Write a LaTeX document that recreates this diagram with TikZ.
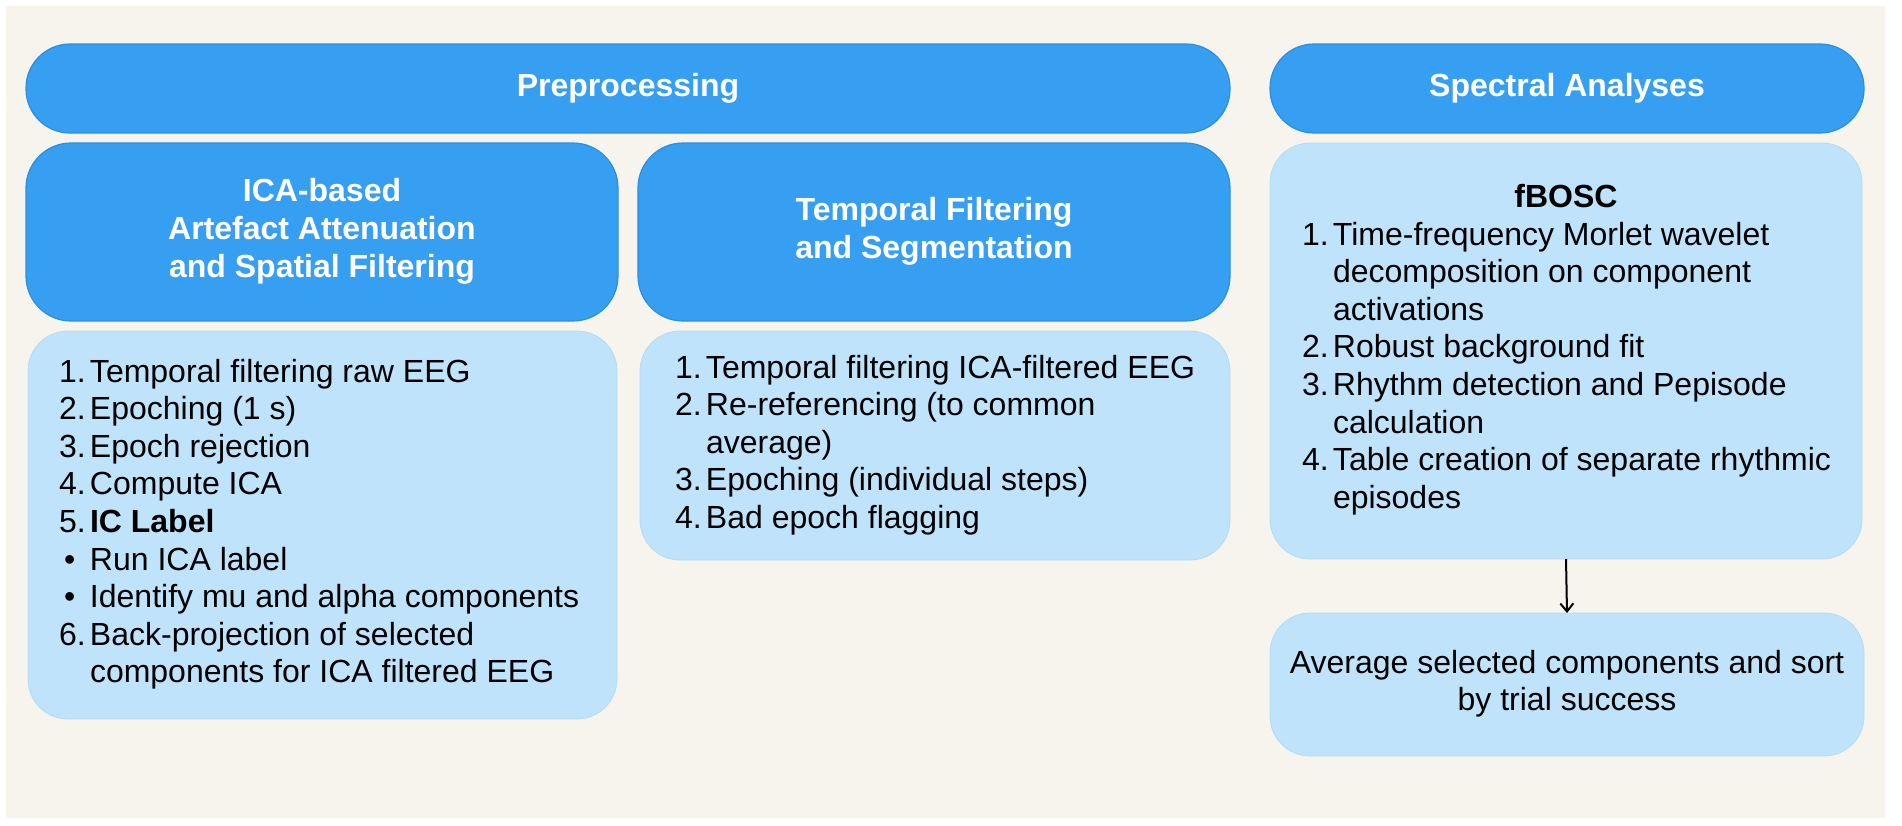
\documentclass[tikz,border=0pt]{standalone}
\usepackage{fontspec}
\setmainfont{Liberation Sans}
\usetikzlibrary{arrows.meta}
\definecolor{bgbeige}{HTML}{F6F4EC}
\definecolor{darkblue}{HTML}{369FF1}
\definecolor{darkedge}{HTML}{2B8FE0}
\definecolor{lightblue}{HTML}{BEE3FA}
\definecolor{lightedge}{HTML}{B3DCF7}
\newcommand\nb[1]{\makebox[31pt][l]{#1}}
\newcommand\ind{\hspace*{31pt}}
\newcommand\blt{\makebox[31pt][l]{\hspace*{5pt}•}}
\begin{document}
\begin{tikzpicture}[x=1pt,y=-1pt,
  txt/.style={font=\fontsize{32}{37.6}\selectfont, inner sep=0pt, outer sep=0pt, text=black},
  darkbox/.style={fill=darkblue, draw=darkedge, line width=1.2pt, rounded corners=#1,
    inner sep=0pt, outer sep=0pt, text=white, font=\bfseries\fontsize{32}{37.6}\selectfont,
    align=center, anchor=north west},
  darkbox/.default=45pt,
  lightbox/.style={fill=lightblue, draw=lightedge, line width=0.8pt, rounded corners=#1,
    inner sep=0pt, outer sep=0pt, anchor=north west},
  lightbox/.default=40pt,
  arrowline/.style={draw=black, line width=2pt, -{Straight Barb[length=8pt,width=13pt,line width=2pt]}}
]
\useasboundingbox (0,0) rectangle (1902,825);
\fill[white] (0,0) rectangle (1902,825);
\fill[bgbeige] (6,6) rectangle (1885,818);

% top headers
\node[darkbox=44pt, minimum width=1204pt, minimum height=89pt] (pre) at (26,44) {Preprocessing};
\node[darkbox=44pt, minimum width=594pt, minimum height=89pt] (spec) at (1270,44) {Spectral Analyses};

% sub headers
\node[darkbox, minimum width=592pt, minimum height=178pt] (icahead) at (26,143)
  {\strut ICA-based\\\strut Artefact Attenuation\\\strut and Spatial Filtering};
\node[darkbox, minimum width=592pt, minimum height=178pt] (tfhead) at (638,143)
  {\strut Temporal Filtering\\\strut and Segmentation};

% light boxes
\node[lightbox, minimum width=589pt, minimum height=388pt] (icabox) at (28,331) {};
\node[lightbox, minimum width=590pt, minimum height=229pt] (tfbox) at (640,331) {};
\node[lightbox, minimum width=592pt, minimum height=416pt] (fbosc) at (1270,143) {};
\node[lightbox, minimum width=594pt, minimum height=143pt] (avg) at (1270,613)
  {};

% list texts
\node[txt, anchor=north west, align=left] (icalist) at (59,355.7)
  {\strut\nb{1.}Temporal filtering raw EEG\\
   \strut\nb{2.}Epoching (1 s)\\
   \strut\nb{3.}Epoch rejection\\
   \strut\nb{4.}Compute ICA\\
   \strut\nb{5.}\textbf{IC Label}\\
   \strut\blt Run ICA label\\
   \strut\blt Identify mu and alpha components\\
   \strut\nb{6.}Back-projection of selected\\
   \strut\ind components for ICA filtered EEG};

\node[txt, anchor=north west, align=left] (tflist) at (675,351.7)
  {\strut\nb{1.}Temporal filtering ICA-filtered EEG\\
   \strut\nb{2.}Re-referencing (to common\\
   \strut\ind average)\\
   \strut\nb{3.}Epoching (individual steps)\\
   \strut\nb{4.}Bad epoch flagging};

\node[txt, font=\bfseries\fontsize{32}{37.6}\selectfont, anchor=base] (fbosctitle) at (1566,207) {fBOSC};

\node[txt, anchor=north west, align=left] (fbosclist) at (1302,218.7)
  {\strut\nb{1.}Time-frequency Morlet wavelet\\
   \strut\ind decomposition on component\\
   \strut\ind activations\\
   \strut\nb{2.}Robust background fit\\
   \strut\nb{3.}Rhythm detection and Pepisode\\
   \strut\ind calculation\\
   \strut\nb{4.}Table creation of separate rhythmic\\
   \strut\ind episodes};

\node[txt, align=center] (avgtext) at (avg.center)
  {\strut Average selected components and sort\\\strut by trial success};

% connector
\draw[arrowline] (fbosc.south) -- (avg.north);
\end{tikzpicture}
\end{document}
